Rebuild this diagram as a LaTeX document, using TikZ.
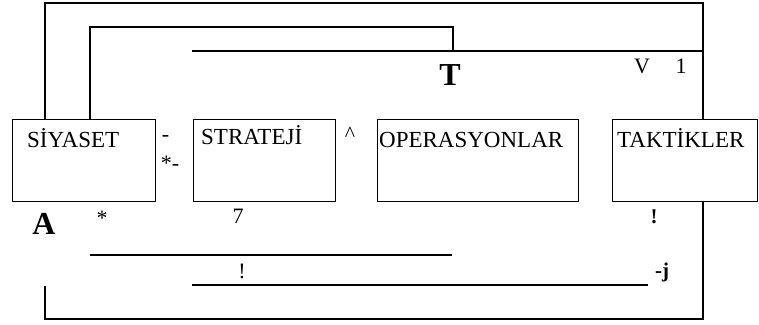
\documentclass[tikz,border=0pt]{standalone}
\usepackage{fontspec}
\setmainfont{Liberation Serif}
\begin{document}
\begin{tikzpicture}
[x=1pt,y=-1pt,%
  boxdecorate/.style={shape=rectangle,draw,line width=1.3pt,minimum height=82pt,inner sep=0pt,anchor=north west},%
  labeldecorate/.style={anchor=base west,inner sep=0pt,font=\fontsize{23}{27}\selectfont},%
  linedecorate/.style={-,line width=1.3pt},%
  markdecorate/.style={anchor=base,inner sep=0pt,font=\fontsize{22}{26}\selectfont},%
  boldmarkdecorate/.style={anchor=base,inner sep=0pt,font=\fontsize{21}{25}\selectfont\bfseries},%
  bigdecorate/.style={anchor=base,inner sep=0pt,font=\fontsize{32}{38}\selectfont\bfseries}]
\useasboundingbox (0,0) rectangle (759,324);
%% boxes
\foreach \nodename/\x/\w/\dx/\dy/\txt in {
  siyaset/12/143/15/28/SİYASET, strateji/193/142/8/25/STRATEJİ,
  operasyonlar/377/201/2/28/OPERASYONLAR, taktikler/612/145/5/28/TAKTİKLER}
{
  \node (\nodename) at (\x,119) [boxdecorate,minimum width=\w pt,%
    label={[labeldecorate,xshift=\dx pt,yshift=-\dy pt]north west:\txt}] {};
}
%% corners of the loops
\foreach \nodename/\x/\y in {
  topL/45/3, topR/703/3, midL/90/27, midR/453/27, barL/192/51,
  botL/45/286, botR/703/319, lowL/90/255, lowR/452/255, baseL/192/285, baseR/648/285}
{
  \coordinate (\nodename) at (\x,\y);
}
%% lines
\draw[linedecorate] (topL |- siyaset.north) -- (topL) -- (topR) -- (topR |- taktikler.north);
\draw[linedecorate] (midL |- siyaset.north) -- (midL) -- (midR) -- (midR |- barL);
\draw[linedecorate] (barL) -- (barL -| topR);
\draw[linedecorate] (botL) |- (botR) -- (botR |- taktikler.south);
\path
\foreach \startnode/\endnode in {lowL/lowR, baseL/baseR}
{
  (\startnode) edge[linedecorate] (\endnode)
};
%% marks
\foreach \nodename/\x/\y/\txt in {
  hyphen/165.5/141/-, stardash/170/170/*-, caret/350/141/\textasciicircum,
  vee/642/73/V, one/681/73/1, star/102/225/*, seven/238/223/7, bang/242/278/!}
{
  \node (\nodename) at (\x,\y) [markdecorate] {\txt};
}
\node (bangR) at (654,223) [boldmarkdecorate] {!};
\node (minusj) at (662,277) [boldmarkdecorate] {-j};
\node (tee) at (450,85) [bigdecorate] {T};
\node (ay) at (44,234) [bigdecorate] {A};
\end{tikzpicture}
\end{document}
